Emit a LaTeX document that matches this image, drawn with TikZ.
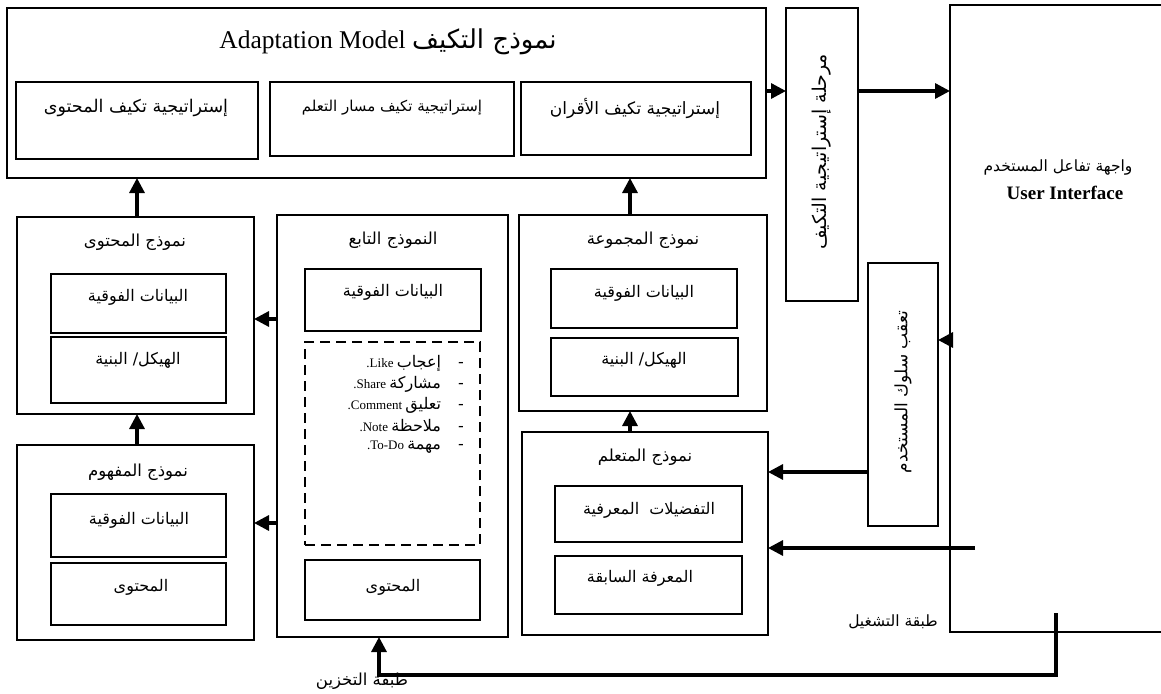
\documentclass[tikz,border=0pt]{standalone}
\usepackage{fontspec}
\setmainfont{Liberation Serif}
\newfontfamily\arabicfont[Script=Arabic]{DejaVu Sans}
\TeXXeTstate=1
\usetikzlibrary{arrows.meta,fit}

% right-to-left Arabic run
\newcommand{\ar}[1]{{\arabicfont\beginR #1\endR}}
% one entry of the interaction list: dash, Arabic word, Latin word, full stop
\newcommand{\listentry}[2]{\beginR{\arabicfont\fontsize{16}{18}\selectfont -\hspace{17pt}#1} \beginL #2\endL.\endR}
% framed box spanning two corners
\newcommand{\mkbox}[6][frame]{%
  \path (#3,#4) coordinate (#2-tl) (#5,#6) coordinate (#2-br);
  \node[#1, fit=(#2-tl)(#2-br)] (#2) {};}

\tikzset{
  frame/.style={draw, line width=2.5pt, inner sep=0pt, outer sep=0pt, rectangle},
  listframe/.style={frame, dash pattern=on 10pt off 6pt},
  arr/.style={line width=3.2pt, -{Triangle[length=15pt,width=15pt]}},
  lbl/.style={inner sep=0pt, font=\fontsize{16.5}{19}\selectfont},
  sublbl/.style={inner sep=0pt, font=\fontsize{16}{19}\selectfont},
  itemlbl/.style={inner sep=0pt, anchor=east, font=\fontsize{13}{15}\selectfont},
  sidelbl/.style={inner sep=0pt, rotate=90},
}

\begin{document}
\begin{tikzpicture}[x=1pt,y=-1pt]
\useasboundingbox (0,0) rectangle (1161,693);
\fill[white] (0,0) rectangle (1161,693);
\clip (0,0) rectangle (1161,693);

% adaptation model and its strategies
\mkbox{adapt}{7}{8}{766}{178}
\mkbox{sone}{16}{82}{258}{159}
\mkbox{stwo}{270}{82}{514}{156}
\mkbox{sthree}{521}{82}{751}{155}
\node[inner sep=0pt, font=\fontsize{25.5}{29}\selectfont] (adapt-t) at (388,42)
  {\beginR{\arabicfont\fontsize{26}{30}\selectfont نموذج التكيف} \beginL Adaptation Model\endL\endR};
\node[inner sep=0pt, font=\fontsize{17.5}{20}\selectfont] (sone-t) at (136,108) {\ar{إستراتيجية تكيف المحتوى}};
\node[inner sep=0pt, font=\fontsize{15}{17}\selectfont] (stwo-t) at (392,108) {\ar{إستراتيجية تكيف مسار التعلم}};
\node[inner sep=0pt, font=\fontsize{17}{20}\selectfont] (sthree-t) at (635,108) {\ar{إستراتيجية تكيف الأقران}};

% adaptation strategy stage, user interface, behaviour tracking
\mkbox{stage}{786}{8}{858}{301}
\node[sidelbl, font=\fontsize{19}{22}\selectfont] (stage-t) at (822,152) {\ar{مرحلة إستراتيجية التكيف}};
\mkbox{ui}{950}{5}{1175}{632}
\node[inner sep=0pt, font=\fontsize{15.5}{18}\selectfont] (ui-ta) at (1058,168) {\ar{واجهة تفاعل المستخدم}};
\node[inner sep=0pt, font=\fontsize{19}{22}\selectfont\bfseries] (ui-tb) at (1065,193) {User Interface};
\mkbox{track}{868}{263}{938}{526}
\node[sidelbl, font=\fontsize{17}{20}\selectfont] (track-t) at (903,392) {\ar{تعقب سلوك المستخدم}};
\node[inner sep=0pt, font=\fontsize{15.5}{18}\selectfont] (op-t) at (893,622) {\ar{طبقة التشغيل}};

% content model
\mkbox{content}{17}{217}{254}{414}
\mkbox{cmeta}{51}{274}{226}{333}
\mkbox{cstruct}{51}{337}{226}{403}
\node[lbl] (content-t) at (135,242) {\ar{نموذج المحتوى}};
\node[sublbl] (cmeta-t) at (138,297) {\ar{البيانات الفوقية}};
\node[sublbl] (cstruct-t) at (138,360) {\ar{الهيكل\beginL/\endL{} البنية}};

% concept model
\mkbox{concept}{17}{445}{254}{640}
\mkbox{kmeta}{51}{494}{226}{557}
\mkbox{kcont}{51}{563}{226}{625}
\node[lbl] (concept-t) at (138,472) {\ar{نموذج المفهوم}};
\node[sublbl] (kmeta-t) at (139,520) {\ar{البيانات الفوقية}};
\node[sublbl] (kcont-t) at (141,587) {\ar{المحتوى}};

% follower model
\mkbox{tabi}{277}{215}{508}{637}
\mkbox{tmeta}{305}{269}{481}{331}
\mkbox[listframe]{tlist}{305}{342}{480}{545}
\mkbox{tcont}{305}{560}{480}{620}
\node[lbl] (tabi-t) at (393,240) {\ar{النموذج التابع}};
\node[sublbl] (tmeta-t) at (393,292) {\ar{البيانات الفوقية}};
\node[itemlbl] (li-a) at (464,363) {\listentry{إعجاب}{Like}};
\node[itemlbl] (li-b) at (464,384) {\listentry{مشاركة}{Share}};
\node[itemlbl] (li-c) at (464,405) {\listentry{تعليق}{Comment}};
\node[itemlbl] (li-d) at (464,426) {\listentry{ملاحظة}{Note}};
\node[itemlbl] (li-e) at (464,447) {\listentry{مهمة}{To-Do}};
\node[sublbl] (tcont-t) at (393,587) {\ar{المحتوى}};

% group model
\mkbox{group}{519}{215}{767}{411}
\mkbox{gmeta}{551}{269}{737}{328}
\mkbox{gstruct}{551}{338}{738}{396}
\node[lbl] (group-t) at (643,240) {\ar{نموذج المجموعة}};
\node[sublbl] (gmeta-t) at (644,293) {\ar{البيانات الفوقية}};
\node[sublbl] (gstruct-t) at (644,360) {\ar{الهيكل\beginL/\endL{} البنية}};

% learner model
\mkbox{learner}{522}{432}{768}{635}
\mkbox{lpref}{555}{486}{742}{542}
\mkbox{lprior}{555}{556}{742}{614}
\node[lbl] (learner-t) at (645,457) {\ar{نموذج المتعلم}};
\node[sublbl] (lpref-t) at (649,510) {\ar{التفضيلات\ \ المعرفية}};
\node[sublbl] (lprior-t) at (640,578) {\ar{المعرفة السابقة}};

% storage layer label
\node[lbl] (st-t) at (362,681) {\ar{طبقة التخزين}};

% connector rails
\coordinate (rowtop) at (0,91);
\coordinate (colleft) at (137,0);
\coordinate (colright) at (630,0);
\coordinate (uiin) at (975,548);
\coordinate (opl) at (1056,613);
\coordinate (stor) at (379,675);

% connectors
\draw[arr] (adapt.east |- rowtop) -- (stage.west |- rowtop);
\draw[arr] (stage.east |- rowtop) -- (ui.west |- rowtop);
\draw[arr] (content.north -| colleft) -- (adapt.south -| colleft);
\draw[arr] (concept.north -| colleft) -- (content.south -| colleft);
\draw[arr] (group.north -| colright) -- (adapt.south -| colright);
\draw[arr] (learner.north -| colright) -- (group.south -| colright);
\draw[arr] (tabi.west |- 0,319) -- (content.east |- 0,319);
\draw[arr] (tabi.west |- 0,523) -- (concept.east |- 0,523);
\draw[arr] (ui.west |- 0,340) -- (track.east |- 0,340);
\draw[arr] (track.west |- 0,472) -- (learner.east |- 0,472);
\draw[arr] (uiin) -- (learner.east |- uiin);
\draw[arr] (opl) |- (stor) -- (tabi.south -| stor);
\end{tikzpicture}
\end{document}
